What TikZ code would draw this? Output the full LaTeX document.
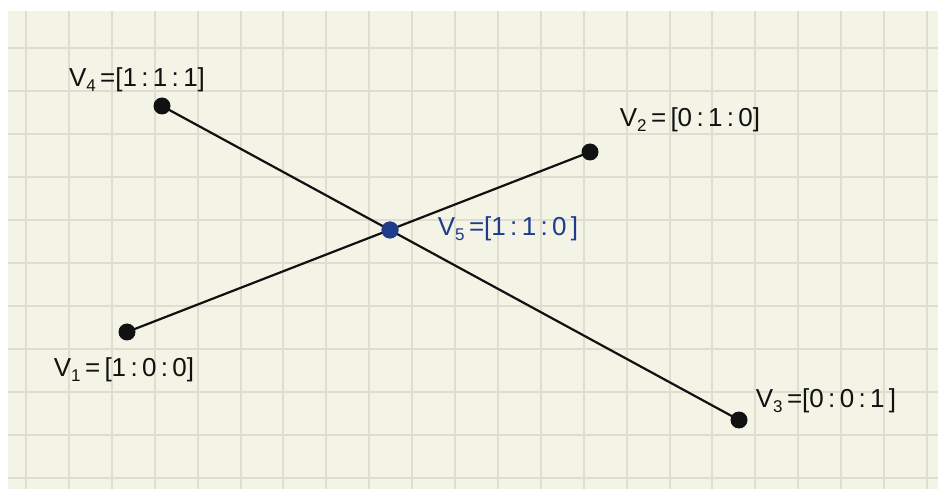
\documentclass[tikz,border=0pt]{standalone}
\usepackage{fontspec}
\setmainfont{Liberation Sans}
\definecolor{paper}{HTML}{F3F3E6}
\definecolor{gridc}{HTML}{DEDED0}
\definecolor{ink}{HTML}{111111}
\definecolor{blueink}{HTML}{1E3C8C}
\newcommand{\subv}[1]{\raisebox{-0.35ex}{\fontsize{17}{18}\selectfont #1}}
\tikzset{
  dot/.style={circle,fill=ink,inner sep=0pt,minimum size=17pt},
  bluedot/.style={circle,fill=blueink,inner sep=0pt,minimum size=17pt},
  seg/.style={draw=ink,line width=2.2pt},
  lab/.style={text=ink,font=\fontsize{26}{28}\selectfont,inner sep=0pt},
  bluelab/.style={text=blueink,font=\fontsize{26}{28}\selectfont,inner sep=0pt}
}
\begin{document}
\begin{tikzpicture}[x=1pt,y=-1pt]
\useasboundingbox (0,0) rectangle (938,489);
\fill[white] (0,0) rectangle (938,489);
\fill[paper] (8,11) rectangle (938,489);
\foreach \k in {0,...,21} \draw[gridc,line width=2pt] ({26+42.9*\k},11) -- ({26+42.9*\k},489);
\foreach \k in {0,...,10} \draw[gridc,line width=2pt] (8,{48+42.95*\k}) -- (938,{48+42.95*\k});
\node[dot] (v4) at (162,106) {};
\node[dot] (v2) at (590,152) {};
\node[dot] (v1) at (127,332) {};
\node[dot] (v3) at (739,420) {};
\node[bluedot] (v5) at (390,230) {};
\draw[seg] (v4.center) -- (v3.center);
\draw[seg] (v1.center) -- (v2.center);
\node[bluedot] at (v5) {};
\node[lab] (l4) at (137,80) {V\subv{4}\,=[1\,:\,1\,:\,1]};
\node[lab] (l2) at (690,120) {V\subv{2}\,=\,[0\,:\,1\,:\,0]};
\node[bluelab] (l5) at (508,229) {V\subv{5}\,=[1\,:\,1\,:\,0\,]};
\node[lab] (l1) at (124,370) {V\subv{1}\,=\,[1\,:\,0\,:\,0]};
\node[lab] (l3) at (826,401) {V\subv{3}\,=[0\,:\,0\,:\,1\,]};
\end{tikzpicture}
\end{document}
